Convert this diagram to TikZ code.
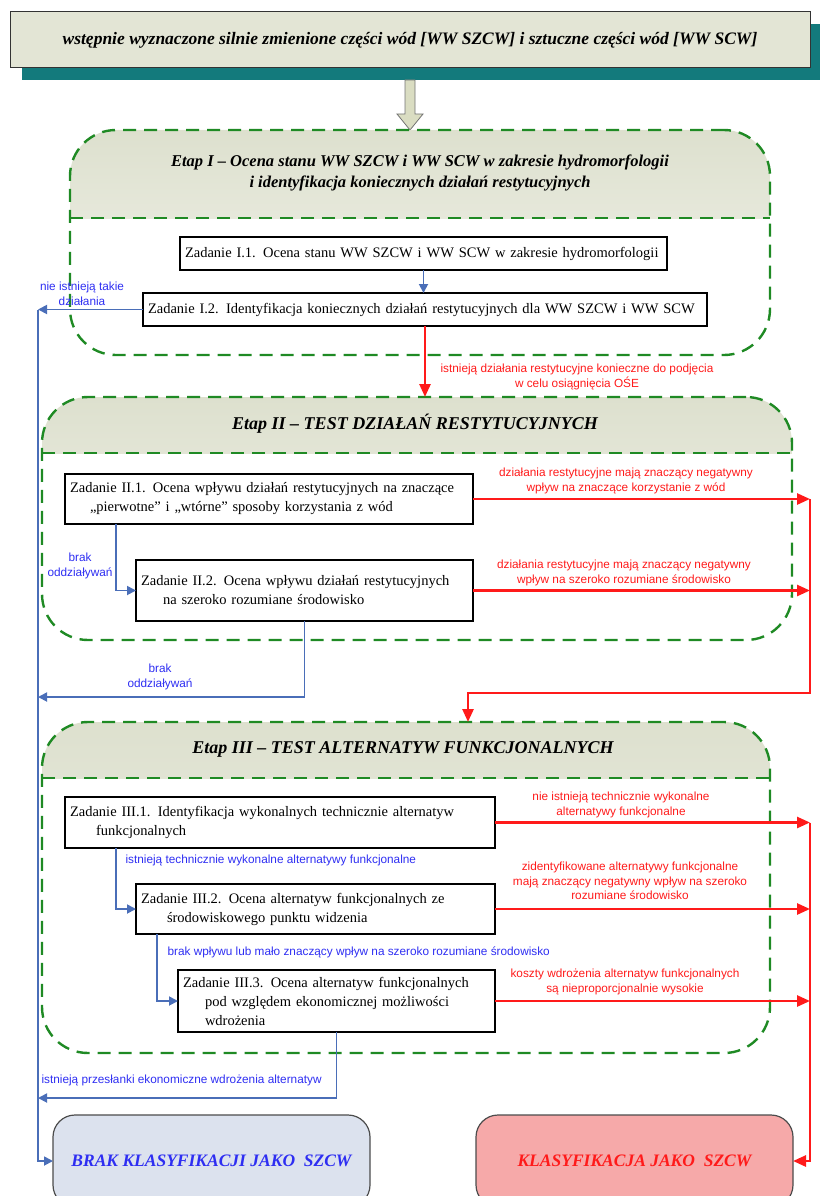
\documentclass[tikz,border=0pt]{standalone}
\usepackage{fontspec}
\setmainfont{Liberation Serif}
\newfontfamily\labelfont{Liberation Sans}
\usetikzlibrary{positioning,arrows.meta,shadows}

\definecolor{stagegreen}{HTML}{1F8A24}
\definecolor{flowblue}{HTML}{4A6EB8}
\definecolor{noteblue}{HTML}{2E2EF2}
\definecolor{flowred}{HTML}{FF1A1A}
\definecolor{headdark}{HTML}{DDE0CE}
\definecolor{headlight}{HTML}{F4F5EE}
\definecolor{topfill}{HTML}{E3E5D5}
\definecolor{shadowteal}{HTML}{137A7C}
\definecolor{arrowfill}{HTML}{DADDC2}
\definecolor{brakfill}{HTML}{DCE2EE}
\definecolor{klasfill}{HTML}{F6A9A9}

\begin{document}
\begin{tikzpicture}[x=1pt, y=-1pt,
  >={Triangle[length=9pt,width=9pt]},
  topbox/.style={draw=black!80, line width=1pt, fill=topfill, minimum width=800pt,
                 minimum height=56pt, font=\bfseries\itshape\fontsize{17.5}{20}\selectfont,
                 drop shadow={shadow xshift=12pt, shadow yshift=-12pt, fill=shadowteal, opacity=1}},
  stage/.style={draw=stagegreen, line width=2.4pt, dash pattern=on 13pt off 8pt,
                rounded corners=46pt, anchor=north west, inner sep=0pt, outer sep=0pt,
                path picture={\shade[sharp corners, top color=headdark, bottom color=headlight]
                  (path picture bounding box.north west) rectangle
                  ([yshift=-#1]path picture bounding box.north east);}},
  divider/.style={stagegreen, line width=2.4pt, dash pattern=on 13pt off 8pt},
  stagetitle/.style={font=\bfseries\itshape\fontsize{18}{21}\selectfont, align=center},
  task/.style={draw, line width=1.1pt, fill=white, align=left, anchor=north west,
               font=\fontsize{14.5}{19}\selectfont, inner xsep=5pt, inner ysep=2pt, outer sep=0pt},
  rednote/.style={flowred, font=\labelfont\fontsize{11.8}{14.5}\selectfont, align=center},
  bluenote/.style={noteblue, font=\labelfont\fontsize{11.8}{14.5}\selectfont, align=center},
  redline/.style={flowred, line width=2.6pt, -{Triangle[length=13pt,width=11pt]}},
  blueline/.style={flowblue, line width=1.8pt, ->},
  result/.style={draw=black!70, line width=1.2pt, rounded corners=22pt, minimum width=317pt,
                 minimum height=92pt, anchor=north west, outer sep=0pt,
                 font=\bfseries\itshape\fontsize{17.5}{20}\selectfont}
]
\useasboundingbox (0,0) rectangle (819,1196);

% start and stages
\node[topbox] (start) at (410,40) {wstępnie wyznaczone silnie zmienione części wód [WW SZCW] i sztuczne części wód [WW SCW]};
\draw[draw=black!55, fill=arrowfill, line width=0.8pt]
  (405,80) -- (415,80) -- (415,114) -- (423,114) -- (410,130) -- (397,114) -- (405,114) -- cycle;

\node[stage=88pt, minimum width=700pt, minimum height=225pt] (etapI) at (70,130) {};
\draw[divider] ([yshift=-88pt]etapI.north west) -- ([yshift=-88pt]etapI.north east);
\node[stagetitle, font=\bfseries\itshape\fontsize{16.5}{21}\selectfont] (titleI) at (420,173)
  {Etap I – Ocena stanu WW SZCW i WW SCW w zakresie hydromorfologii\\i identyfikacja koniecznych działań restytucyjnych};

\node[stage=56pt, minimum width=750pt, minimum height=243pt] (etapII) at (42,397) {};
\draw[divider] ([yshift=-56pt]etapII.north west) -- ([yshift=-56pt]etapII.north east);
\node[stagetitle] (titleII) at (415,424) {Etap II – TEST DZIAŁAŃ RESTYTUCYJNYCH};

\node[stage=56pt, minimum width=728pt, minimum height=331pt] (etapIII) at (42,722) {};
\draw[divider] ([yshift=-56pt]etapIII.north west) -- ([yshift=-56pt]etapIII.north east);
\node[stagetitle] (titleIII) at (403,749) {Etap III – TEST ALTERNATYW FUNKCJONALNYCH};

% tasks
\node[task, minimum width=487pt, minimum height=33pt, text width=477pt] (z11) at (180,237)
  {Zadanie I.1. Ocena stanu WW SZCW i WW SCW w zakresie hydromorfologii};
\node[task, minimum width=564pt, minimum height=33pt, text width=554pt] (z12) at (143,293)
  {Zadanie I.2. Identyfikacja koniecznych działań restytucyjnych dla WW SZCW i WW SCW};
\node[task, minimum width=408pt, minimum height=50pt, text width=398pt] (z21) at (65,474)
  {Zadanie II.1. Ocena wpływu działań restytucyjnych na znaczące\\\hspace*{20pt}„pierwotne” i „wtórne” sposoby korzystania z wód};
\node[task, minimum width=337pt, minimum height=61pt, text width=327pt] (z22) at (136,560)
  {Zadanie II.2. Ocena wpływu działań restytucyjnych\\\hspace*{22pt}na szeroko rozumiane środowisko};
\node[task, minimum width=430pt, minimum height=51pt, text width=420pt] (z31) at (65,797)
  {Zadanie III.1. Identyfikacja wykonalnych technicznie alternatyw\\\hspace*{26pt}funkcjonalnych};
\node[task, minimum width=359pt, minimum height=50pt, text width=349pt] (z32) at (136,884)
  {Zadanie III.2. Ocena alternatyw funkcjonalnych ze\\\hspace*{26pt}środowiskowego punktu widzenia};
\node[task, minimum width=317pt, minimum height=62pt, text width=307pt] (z33) at (178,970)
  {Zadanie III.3. Ocena alternatyw funkcjonalnych\\\hspace*{22pt}pod względem ekonomicznej możliwości\\\hspace*{22pt}wdrożenia};

% results
\node[result, fill=brakfill, text=noteblue] (brak) at (53,1115) {BRAK KLASYFIKACJI JAKO\ \ SZCW};
\node[result, fill=klasfill, text=flowred] (klas) at (476,1115) {KLASYFIKACJA JAKO\ \ SZCW};

% trunks
\coordinate (bluetrunk) at (38,0);
\coordinate (redtrunk) at (810,0);
\coordinate (merge1) at (38,697);
\coordinate (merge2) at (38,1098);
\coordinate (redbend) at (468,693);

% blue connectors
\draw[blueline] (z11.south) -- (z11.south |- z12.north);
\draw[blueline] (z12.west) -- (z12.west -| bluetrunk);
\draw[blueline] (bluetrunk |- z12.west) -- (bluetrunk |- brak.west) -- (brak.west);
\draw[blueline] ([xshift=51pt]z21.south west) |- (z22.west);
\draw[blueline] (z22.south) |- (merge1);
\draw[blueline] ([xshift=51pt]z31.south west) |- (z32.west);
\draw[blueline] ([xshift=21pt]z32.south west) |- (z33.west);
\draw[blueline] (z33.south) |- (merge2);

% red connectors
\draw[redline] (z12.south) -- (z12.south |- etapII.north);
\draw[redline] (z21.east) -- (z21.east -| redtrunk);
\draw[redline] (z22.east) -- (z22.east -| redtrunk);
\draw[redline] (redtrunk |- z21.east) -- (redtrunk |- redbend) -- (redbend) -- (redbend |- etapIII.north);
\draw[redline] (z31.east) -- (z31.east -| redtrunk);
\draw[redline] (z32.east) -- (z32.east -| redtrunk);
\draw[redline] (z33.east) -- (z33.east -| redtrunk);
\draw[redline] (redtrunk |- z31.east) -- (redtrunk |- klas.east) -- (klas.east);

% labels
\node[bluenote] (n1) at (82,294) {nie istnieją takie\\działania};
\node[rednote] (n2) at (577,377) {istnieją działania restytucyjne konieczne do podjęcia\\w celu osiągnięcia OŚE};
\node[rednote] (n3) at (626,481) {działania restytucyjne mają znaczący negatywny\\wpływ na znaczące korzystanie z wód};
\node[rednote] (n4) at (624,573) {działania restytucyjne mają znaczący negatywny\\wpływ na szeroko rozumiane środowisko};
\node[bluenote] (n5) at (80,566) {brak\\oddziaływań};
\node[bluenote] (n6) at (160,677) {brak\\oddziaływań};
\node[rednote] (n7) at (621,805) {nie istnieją technicznie wykonalne\\alternatywy funkcjonalne};
\node[bluenote, anchor=west] (n8) at (122,860) {istnieją technicznie wykonalne alternatywy funkcjonalne};
\node[rednote] (n9) at (630,881) {zidentyfikowane alternatywy funkcjonalne\\mają znaczący negatywny wpływ na szeroko\\rozumiane środowisko};
\node[bluenote, anchor=west] (n10) at (164,952) {brak wpływu lub mało znaczący wpływ na szeroko rozumiane środowisko};
\node[rednote] (n11) at (625,982) {koszty wdrożenia alternatyw funkcjonalnych\\są nieproporcjonalnie wysokie};
\node[bluenote, anchor=west] (n12) at (38,1080) {istnieją przesłanki ekonomiczne wdrożenia alternatyw};
\end{tikzpicture}
\end{document}
